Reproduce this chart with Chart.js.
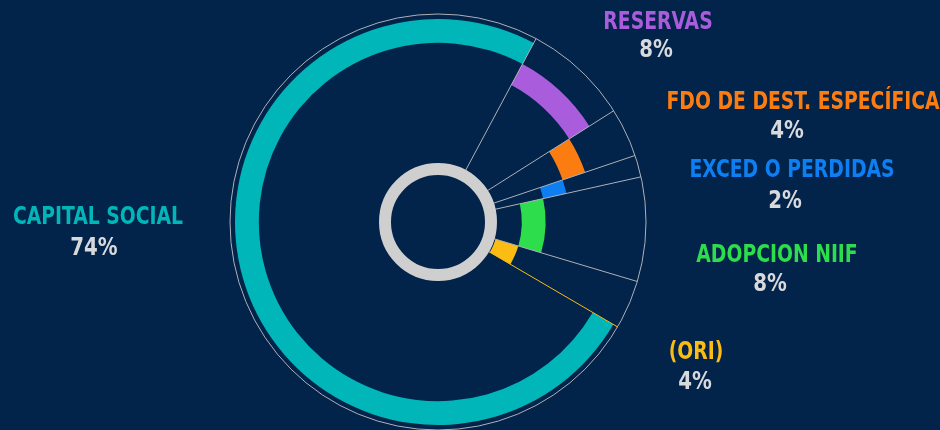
<!DOCTYPE html>
<html>
<head>
<meta charset="utf-8">
<script src="https://cdn.jsdelivr.net/npm/chart.js@4.4.0/dist/chart.umd.min.js"></script>
<style>
  html, body { margin: 0; padding: 0; background: #02234a; overflow: hidden; }
  #wrap { width: 940px; height: 430px; position: relative; }
</style>
</head>
<body>
<div id="wrap"><canvas id="myChart"></canvas></div>
<script>
// data, outer ring first
var categories = ['CAPITAL SOCIAL', 'RESERVAS', 'FDO DE DEST. ESPECÍFICA', 'EXCED O PERDIDAS', 'ADOPCION NIIF', '(ORI)'];
var values = [74.4, 8.2, 3.8, 1.7, 8.1, 3.8];
var colors = ['#00b6b8', '#a95cdc', '#fb7d12', '#0d7ff2', '#2ddd4b', '#fbbd14'];

// label placement, relative to the chart centre: [nameX, nameY, pctX, pctY]
var labelOffsets = [
  [-340, -4, -344, 26],
  [220, -199, 218, -172],
  [365, -119, 349, -91],
  [354, -51, 347, -21],
  [339, 34, 332, 62],
  [258, 131, 257, 160]
];

var total = values.reduce(function (a, b) { return a + b; }, 0);

var datasets = categories.map(function (name, i) {
  return {
    label: name,
    data: values,
    backgroundColor: values.map(function (v, j) { return j === i ? colors[i] : 'rgba(0,0,0,0)'; }),
    borderWidth: 0
  };
});

function squeezedText(ctx, txt, x, y, sx) {
  ctx.save();
  ctx.translate(x, y);
  ctx.scale(sx, 1);
  ctx.fillText(txt, 0, 0);
  ctx.restore();
}

var decor = {
  id: 'decor',
  afterDatasetsDraw: function (chart) {
    var ctx = chart.ctx;
    var arcs = chart.getDatasetMeta(0).data;
    var cx = arcs[0].x, cy = arcs[0].y;
    var outer = chart.getDatasetMeta(0).controller.outerRadius + 5;
    var inner = chart.getDatasetMeta(datasets.length - 1).controller.innerRadius;

    ctx.save();
    // outer thin circle
    ctx.strokeStyle = '#aeb1b6';
    ctx.lineWidth = 1;
    ctx.beginPath();
    ctx.arc(cx, cy, outer, 0, Math.PI * 2);
    ctx.stroke();

    // spokes at the end of each slice
    arcs.forEach(function (a, i) {
      var ang = a.endAngle;
      ctx.strokeStyle = i === arcs.length - 1 ? colors[i] : '#aeb1b6';
      ctx.beginPath();
      ctx.moveTo(cx + Math.cos(ang) * (inner - 12), cy + Math.sin(ang) * (inner - 12));
      ctx.lineTo(cx + Math.cos(ang) * outer, cy + Math.sin(ang) * outer);
      ctx.stroke();
    });

    // centre ring
    ctx.strokeStyle = '#cfcfcf';
    ctx.lineWidth = 12;
    ctx.beginPath();
    ctx.arc(cx, cy, inner - 7, 0, Math.PI * 2);
    ctx.stroke();

    // labels
    ctx.textAlign = 'center';
    ctx.textBaseline = 'middle';
    categories.forEach(function (name, i) {
      var o = labelOffsets[i];
      ctx.fillStyle = colors[i];
      ctx.font = 'bold 24px "DejaVu Sans Condensed", "DejaVu Sans", sans-serif';
      squeezedText(ctx, name, cx + o[0], cy + o[1], 0.87);
      ctx.fillStyle = '#d8d9dc';
      ctx.font = 'bold 25px "DejaVu Sans Condensed", "DejaVu Sans", sans-serif';
      squeezedText(ctx, Math.round(values[i] / total * 100) + '%', cx + o[2], cy + o[3], 0.88);
    });
    ctx.restore();
  }
};

new Chart(document.getElementById('myChart'), {
  type: 'doughnut',
  data: { labels: categories, datasets: datasets },
  options: {
    responsive: true,
    maintainAspectRatio: false,
    animation: false,
    events: [],
    rotation: 120.3,
    cutout: 60,
    layout: { padding: { top: 19, bottom: 5, left: 0, right: 64 } },
    plugins: { legend: { display: false }, tooltip: { enabled: false } }
  },
  plugins: [decor]
});
</script>
</body>
</html>
